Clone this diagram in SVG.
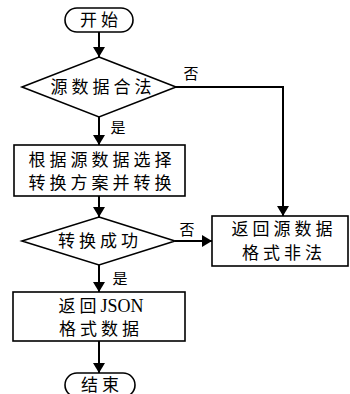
<svg xmlns="http://www.w3.org/2000/svg" width="350" height="394" viewBox="0 0 350 394">
  <style>
    .shape { fill: #fff; stroke: #000; stroke-width: 1.6; }
    .edge { fill: none; stroke: #000; stroke-width: 2; }
    .t { font-family: "Liberation Serif", "Noto Sans CJK SC", serif; font-size: 17px; fill: #000; text-anchor: middle; dominant-baseline: central; letter-spacing: 4px; }
    .latin { letter-spacing: 0; font-size: 18px; }
    .lbl { font-family: "Liberation Serif", "Noto Sans CJK SC", serif; font-size: 15px; fill: #000; text-anchor: middle; dominant-baseline: central; }
  </style>
  <defs>
    <marker id="arrow" viewBox="0 0 10 12" refX="10" refY="6" markerWidth="10" markerHeight="12" markerUnits="userSpaceOnUse" orient="auto">
      <path d="M0,0 L10,6 L0,12 Z" fill="#000"/>
    </marker>
  </defs>

  <g id="connectors">
    <line class="edge" x1="99" y1="32" x2="99" y2="57" marker-end="url(#arrow)"/>
    <polyline class="edge" points="176,87 283,87 283,216" marker-end="url(#arrow)"/>
    <line class="edge" x1="99" y1="117" x2="99" y2="145" marker-end="url(#arrow)"/>
    <line class="edge" x1="99" y1="196" x2="99" y2="217" marker-end="url(#arrow)"/>
    <line class="edge" x1="175" y1="241" x2="212" y2="241" marker-end="url(#arrow)"/>
    <line class="edge" x1="99" y1="265" x2="99" y2="292" marker-end="url(#arrow)"/>
    <line class="edge" x1="99" y1="341" x2="99" y2="373" marker-end="url(#arrow)"/>
    <text class="lbl" x="191" y="74">否</text>
    <text class="lbl" x="118" y="128">是</text>
    <text class="lbl" x="187" y="230">否</text>
    <text class="lbl" x="120" y="279">是</text>
  </g>

  <g id="start">
    <rect class="shape" x="65" y="8" width="68" height="24" rx="12"/>
    <text class="t" x="101" y="20">开始</text>
  </g>

  <g id="check-source">
    <polygon class="shape" points="99,57 176,87 99,117 22,87"/>
    <text class="t" x="103" y="87">源数据合法</text>
  </g>

  <g id="convert">
    <rect class="shape" x="14" y="145" width="171" height="51"/>
    <text class="t" x="102" y="160">根据源数据选择</text>
    <text class="t" x="102" y="183">转换方案并转换</text>
  </g>

  <g id="check-result">
    <polygon class="shape" points="99,217 175,241 99,265 22,241"/>
    <text class="t" x="100" y="241">转换成功</text>
  </g>

  <g id="invalid">
    <rect class="shape" x="212" y="216" width="136" height="50"/>
    <text class="t" x="284" y="229">返回源数据</text>
    <text class="t" x="284" y="253">格式非法</text>
  </g>

  <g id="result">
    <rect class="shape" x="13" y="292" width="172" height="49"/>
    <text class="t" x="101" y="306">返回<tspan class="latin">JSON</tspan></text>
    <text class="t" x="101" y="329">格式数据</text>
  </g>

  <g id="end">
    <rect class="shape" x="65" y="373" width="70" height="24" rx="12"/>
    <text class="t" x="102" y="385">结束</text>
  </g>
</svg>
